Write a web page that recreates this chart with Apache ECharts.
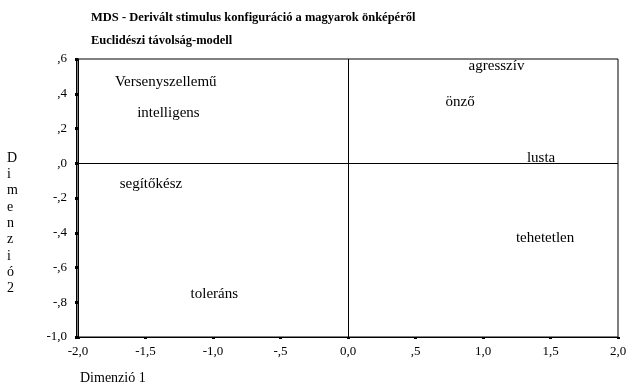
<!DOCTYPE html>
<html>
<head>
<meta charset="utf-8">
<script src="https://cdn.jsdelivr.net/npm/echarts@6/dist/echarts.min.js"></script>
<style>html,body{margin:0;padding:0;background:#fff}#c{width:630px;height:392px}</style>
</head>
<body>
<div id="c"></div>
<script>
// Data
const titleLine1 = 'MDS - Derivált stimulus konfiguráció a magyarok önképéről';
const titleLine2 = 'Euclidészi távolság-modell';
const xAxisTitle = 'Dimenzió 1';
const yAxisTitle = 'Dimenzió 2';
const terms = ['Versenyszellemű', 'intelligens', 'segítőkész', 'toleráns', 'agresszív', 'önző', 'lusta', 'tehetetlen'];
const dim1 = [-1.35, -1.33, -1.46, -0.99, 1.10, 0.83, 1.43, 1.46];
const dim2 = [0.47, 0.29, -0.12, -0.75, 0.56, 0.35, 0.03, -0.43];
const xTickLabels = ['-2,0', '-1,5', '-1,0', '-,5', '0,0', ',5', '1,0', '1,5', '2,0'];
const yTickLabels = ['-1,0', '-,8', '-,6', '-,4', '-,2', ',0', ',2', ',4', ',6'];

const X_MIN = -2, X_MAX = 2, X_STEP = 0.5;
const Y_MIN = -1, Y_MAX = 0.6, Y_STEP = 0.2;
const SERIF = "'Liberation Serif', 'Times New Roman', serif";

const chart = echarts.init(document.getElementById('c'), null, {renderer: 'canvas'});
const points = terms.map((t, i) => ({name: t, value: [dim1[i], dim2[i]]}));

chart.setOption({
  animation: false,
  backgroundColor: '#fff',
  title: [
    {text: titleLine1, left: 91, top: 11, padding: 0,
     textStyle: {fontFamily: SERIF, fontSize: 12.5, fontWeight: 'bold', color: '#000'}},
    {text: titleLine2, left: 91, top: 34, padding: 0,
     textStyle: {fontFamily: SERIF, fontSize: 12.5, fontWeight: 'bold', color: '#000'}}
  ],
  grid: {left: 78, right: 12, top: 59, bottom: 55, show: true, borderColor: '#000', borderWidth: 1, backgroundColor: 'transparent'},
  xAxis: {
    type: 'value', min: X_MIN, max: X_MAX, interval: X_STEP,
    splitLine: {show: false},
    axisLine: {show: true, onZero: false, lineStyle: {color: '#000', width: 1}},
    axisTick: {show: true, length: 2, lineStyle: {color: '#000', width: 3}},
    axisLabel: {margin: 8, color: '#000', fontFamily: SERIF, fontSize: 13,
      formatter: v => xTickLabels[Math.round((v - X_MIN) / X_STEP)]}
  },
  yAxis: [{
    type: 'value', min: Y_MIN, max: Y_MAX, interval: Y_STEP,
    splitLine: {show: false},
    axisLine: {show: true, onZero: false, lineStyle: {color: '#000', width: 1}},
    axisTick: {show: true, length: 3, lineStyle: {color: '#000', width: 3}},
    axisLabel: {margin: 11, color: '#000', fontFamily: SERIF, fontSize: 13,
      formatter: v => yTickLabels[Math.round((v - Y_MIN) / Y_STEP)]}
  }, {
    // second frame line just left of the plot border (double line in reference)
    type: 'value', position: 'left', offset: 2, min: Y_MIN, max: Y_MAX, interval: Y_STEP,
    splitLine: {show: false}, axisTick: {show: false}, axisLabel: {show: false},
    axisLine: {show: true, onZero: false, lineStyle: {color: '#000', width: 1}}
  }],
  graphic: [
    {type: 'text', left: 80, top: 371, style: {text: xAxisTitle, font: '14px ' + SERIF, fill: '#000'}},
    {type: 'text', left: 7, top: 150, style: {text: yAxisTitle.replace(/\s+/g, '').split('').join('\n'),
      font: '14px ' + SERIF, fill: '#000', lineHeight: 16.3, align: 'center'}}
  ],
  series: [{
    type: 'scatter',
    data: points,
    symbolSize: 1,
    itemStyle: {color: 'rgba(255,255,255,0)'},
    label: {show: true, position: 'inside', formatter: p => p.name, opacity: 1,
      color: '#000', fontFamily: SERIF, fontSize: 15, textBorderWidth: 0},
    markLine: {
      silent: true, symbol: 'none', animation: false,
      label: {show: false},
      lineStyle: {color: '#000', width: 1, type: 'solid'},
      data: [{xAxis: 0}, {yAxis: 0}]
    }
  }]
});
</script>
</body>
</html>
